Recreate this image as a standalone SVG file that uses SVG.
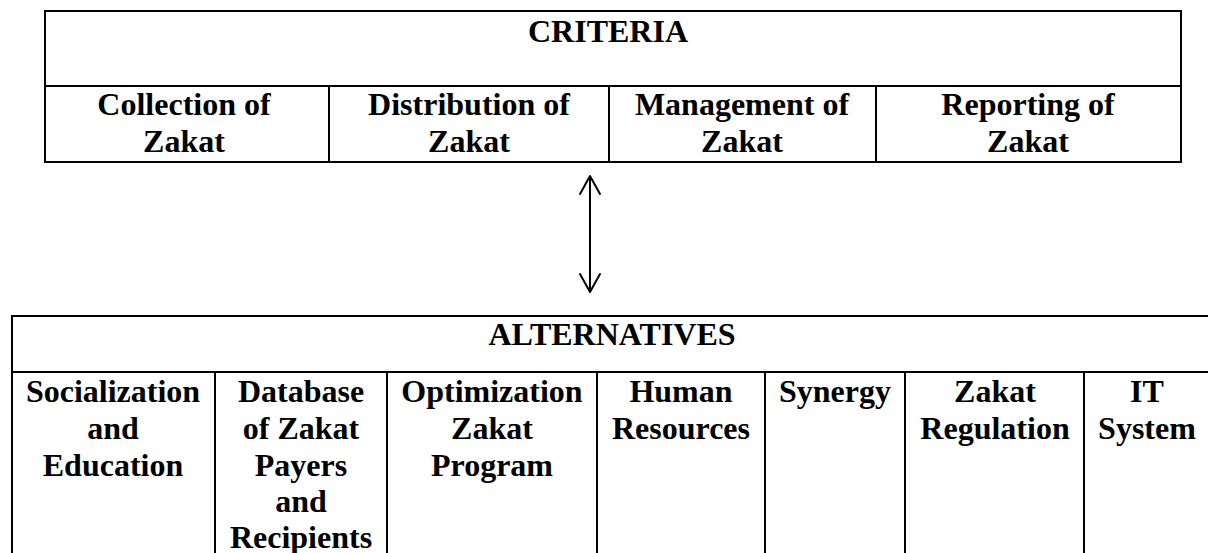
<svg xmlns="http://www.w3.org/2000/svg" width="1208" height="553" viewBox="0 0 1208 553">
  <style>
    .frame { fill: none; stroke: #000; stroke-width: 2; }
    .rule { stroke: #000; stroke-width: 2; }
    .lbl { font-family: "Liberation Serif", "Times New Roman", serif; font-weight: bold; font-size: 32px; fill: #000; text-anchor: middle; }
    .link { stroke: #000; stroke-width: 2; fill: none; }
    .head { stroke: #000; stroke-width: 2; fill: none; stroke-linecap: round; stroke-linejoin: round; }
  </style>

  <!-- Criteria table -->
  <g id="criteria">
    <rect class="frame" x="45" y="11" width="1136" height="151"/>
    <line class="rule" x1="45" y1="86" x2="1181" y2="86"/>
    <text class="lbl" x="608" y="42">CRITERIA</text>
  </g>
  <g id="crit-collection">
    <line class="rule" x1="329" y1="86" x2="329" y2="162"/>
    <text class="lbl" x="184" y="115">Collection of</text>
    <text class="lbl" x="184" y="152">Zakat</text>
  </g>
  <g id="crit-distribution">
    <line class="rule" x1="609" y1="86" x2="609" y2="162"/>
    <text class="lbl" x="469" y="115">Distribution of</text>
    <text class="lbl" x="469" y="152">Zakat</text>
  </g>
  <g id="crit-management">
    <line class="rule" x1="876" y1="86" x2="876" y2="162"/>
    <text class="lbl" x="742" y="115">Management of</text>
    <text class="lbl" x="742" y="152">Zakat</text>
  </g>
  <g id="crit-reporting">
    <text class="lbl" x="1028" y="115">Reporting of</text>
    <text class="lbl" x="1028" y="152">Zakat</text>
  </g>

  <!-- Two-way link between the tables -->
  <g id="connectors">
    <line class="link" x1="590" y1="176" x2="590" y2="292"/>
    <path class="head" d="M580,194 L590,176 L600,194"/>
    <path class="head" d="M580,274 L590,292 L600,274"/>
  </g>

  <!-- Alternatives table -->
  <g id="alternatives">
    <rect class="frame" x="12" y="316" width="1210" height="260"/>
    <line class="rule" x1="12" y1="372" x2="1222" y2="372"/>
    <text class="lbl" x="612" y="345">ALTERNATIVES</text>
  </g>
  <g id="alt-socialization">
    <line class="rule" x1="215" y1="372" x2="215" y2="576"/>
    <text class="lbl" x="113" y="402">Socialization</text>
    <text class="lbl" x="113" y="439">and</text>
    <text class="lbl" x="113" y="476">Education</text>
  </g>
  <g id="alt-database">
    <line class="rule" x1="387" y1="372" x2="387" y2="576"/>
    <text class="lbl" x="301" y="402">Database</text>
    <text class="lbl" x="301" y="439">of Zakat</text>
    <text class="lbl" x="301" y="476">Payers</text>
    <text class="lbl" x="301" y="512">and</text>
    <text class="lbl" x="301" y="548">Recipients</text>
  </g>
  <g id="alt-optimization">
    <line class="rule" x1="597" y1="372" x2="597" y2="576"/>
    <text class="lbl" x="492" y="402">Optimization</text>
    <text class="lbl" x="492" y="439">Zakat</text>
    <text class="lbl" x="492" y="476">Program</text>
  </g>
  <g id="alt-human">
    <line class="rule" x1="765" y1="372" x2="765" y2="576"/>
    <text class="lbl" x="681" y="402">Human</text>
    <text class="lbl" x="681" y="439">Resources</text>
  </g>
  <g id="alt-synergy">
    <line class="rule" x1="905" y1="372" x2="905" y2="576"/>
    <text class="lbl" x="835" y="402">Synergy</text>
  </g>
  <g id="alt-regulation">
    <line class="rule" x1="1084" y1="372" x2="1084" y2="576"/>
    <text class="lbl" x="995" y="402">Zakat</text>
    <text class="lbl" x="995" y="439">Regulation</text>
  </g>
  <g id="alt-it">
    <text class="lbl" x="1147" y="402">IT</text>
    <text class="lbl" x="1147" y="439">System</text>
  </g>
</svg>
